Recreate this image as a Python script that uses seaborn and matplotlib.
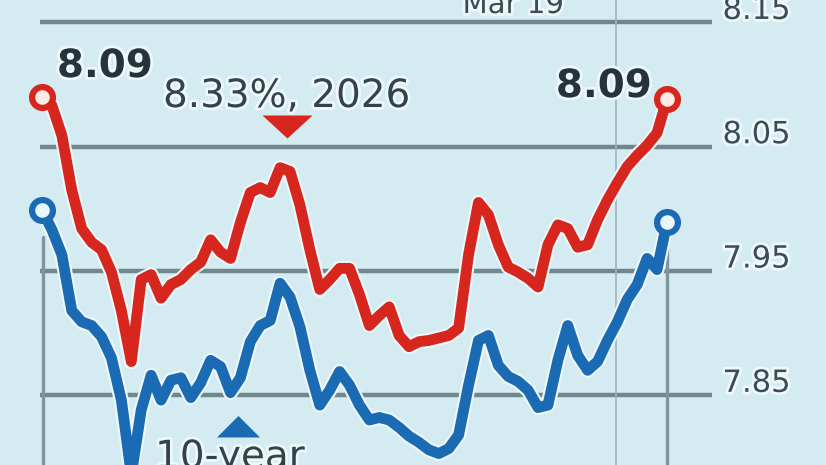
import matplotlib
matplotlib.use("Agg")
import matplotlib.pyplot as plt
import matplotlib.patheffects as pe
import numpy as np
import pandas as pd
import seaborn as sns

# ---- data ----
day_index = list(range(64))
yield_2026 = [8.090, 8.083, 8.059, 8.015, 7.984, 7.973, 7.967, 7.949, 7.918, 7.877,
              7.943, 7.947, 7.928, 7.939, 7.943, 7.951, 7.957, 7.975, 7.965, 7.960,
              7.989, 8.013, 8.017, 8.013, 8.033, 8.030, 8.003, 7.967, 7.935, 7.943,
              7.952, 7.952, 7.931, 7.906, 7.914, 7.921, 7.898, 7.889, 7.893, 7.894,
              7.896, 7.898, 7.904, 7.963, 8.005, 7.995, 7.971, 7.953, 7.949, 7.944,
              7.937, 7.971, 7.987, 7.984, 7.969, 7.971, 7.991, 8.007, 8.021, 8.034,
              8.043, 8.051, 8.061, 8.088]
yield_10y = [7.999, 7.983, 7.963, 7.918, 7.909, 7.906, 7.897, 7.880, 7.846, 7.786,
             7.838, 7.866, 7.846, 7.862, 7.864, 7.848, 7.860, 7.878, 7.873, 7.852,
             7.864, 7.893, 7.906, 7.910, 7.940, 7.929, 7.905, 7.870, 7.842, 7.854,
             7.869, 7.858, 7.842, 7.830, 7.832, 7.830, 7.824, 7.817, 7.812, 7.806,
             7.803, 7.807, 7.818, 7.858, 7.894, 7.898, 7.874, 7.865, 7.861, 7.854,
             7.840, 7.842, 7.878, 7.906, 7.882, 7.870, 7.877, 7.894, 7.909, 7.927,
             7.939, 7.960, 7.951, 7.989]
series_names = ["8.33%, 2026", "10-year"]
tick_values = [7.85, 7.95, 8.05, 8.15]
tick_labels = ["7.85", "7.95", "8.05", "8.15"]
start_label = "8.09"
end_label = "8.09"
month_label = "Mar 19"

# ---- style ----
BG = "#d5ebf2"
RED = "#d6261e"
BLUE = "#1b6bb4"
GRID = "#6f878d"
TXT = "#25343a"
HALO = "#eef8fb"

sns.set_theme(style="white")
plt.rcParams["font.family"] = ["DejaVu Sans"]

fig = plt.figure(figsize=(8.26, 4.65), dpi=100, facecolor=BG)
ax = fig.add_axes([0, 0, 1, 1])
ax.set_facecolor(BG)
ax.set_xlim(-4.234, 79.03)
ax.set_ylim(7.7938, 8.1679)
ax.set_axis_off()

# gridlines
ax.hlines(tick_values, -0.2, 67.5, color=GRID, lw=3.2, zorder=1)
# frame pieces / date marker
ax.axvline(0.1, ymin=0, ymax=0.49, color="#7e959b", lw=2.4, zorder=1)
ax.axvline(day_index[-1], ymin=0, ymax=0.49, color="#7e959b", lw=2.4, zorder=1)
ax.axvline(57.9, color="#9db5be", lw=1.2, zorder=1)

df = pd.DataFrame({
    "day": day_index * 2,
    "value": yield_2026 + yield_10y,
    "series": [series_names[0]] * len(day_index) + [series_names[1]] * len(day_index),
})
sns.lineplot(data=df, x="day", y="value", hue="series",
             palette={series_names[0]: RED, series_names[1]: BLUE},
             lw=7.8, legend=False, ax=ax, zorder=3)
for ln in ax.lines[-2:]:
    ln.set_solid_joinstyle("round")
    ln.set_solid_capstyle("round")
    ln.set_path_effects([pe.Stroke(linewidth=10.8, foreground=HALO), pe.Normal()])

# endpoint markers
for vals, col, fc in [(yield_2026, RED, "#fde9e5"), (yield_10y, BLUE, "#e6f6fb")]:
    ax.plot([day_index[0], day_index[-1]], [vals[0], vals[-1]], ls="none",
            marker="o", ms=15, mew=4.5, mec=col, mfc=fc, zorder=5)

halo = [pe.withStroke(linewidth=4, foreground=HALO)]
# right-hand tick labels
for v, t in zip(tick_values, tick_labels):
    ax.text(68.6, v + 0.0095, t, fontsize=22, color="#3b4d54", va="center",
            ha="left", path_effects=halo, zorder=6)

ax.text(47.5, 8.1574, month_label, fontsize=21, color="#3b4d54", ha="center",
        va="baseline", path_effects=halo, zorder=6)

ax.text(1.5, 8.1059, start_label, fontsize=28, fontweight="bold", color=TXT,
        ha="left", va="baseline", path_effects=halo, zorder=6)
ax.text(51.8, 8.0898, end_label, fontsize=28, fontweight="bold", color=TXT,
        ha="left", va="baseline", path_effects=halo, zorder=6)
ax.text(12.2, 8.0818, series_names[0], fontsize=28, color="#33434a",
        ha="left", va="baseline", path_effects=halo, zorder=6)
ax.text(11.4, 7.7913, series_names[1], fontsize=28, color="#33434a",
        ha="left", va="baseline", path_effects=halo, zorder=6, clip_on=False)

# pointer triangles
down_tri = [(-1, 0), (1, 0), (0, -0.92), (-1, 0)]
up_tri = [(-1, 0), (1, 0), (0, 1.0), (-1, 0)]
ax.plot([24.7], [8.0753], ls="none", marker=down_tri, ms=36, color=RED, mew=0, zorder=6)
ax.plot([19.76], [7.8163], ls="none", marker=up_tri, ms=31, color=BLUE, mew=0, zorder=6)

fig.savefig("out.png", dpi=100, facecolor=BG)
